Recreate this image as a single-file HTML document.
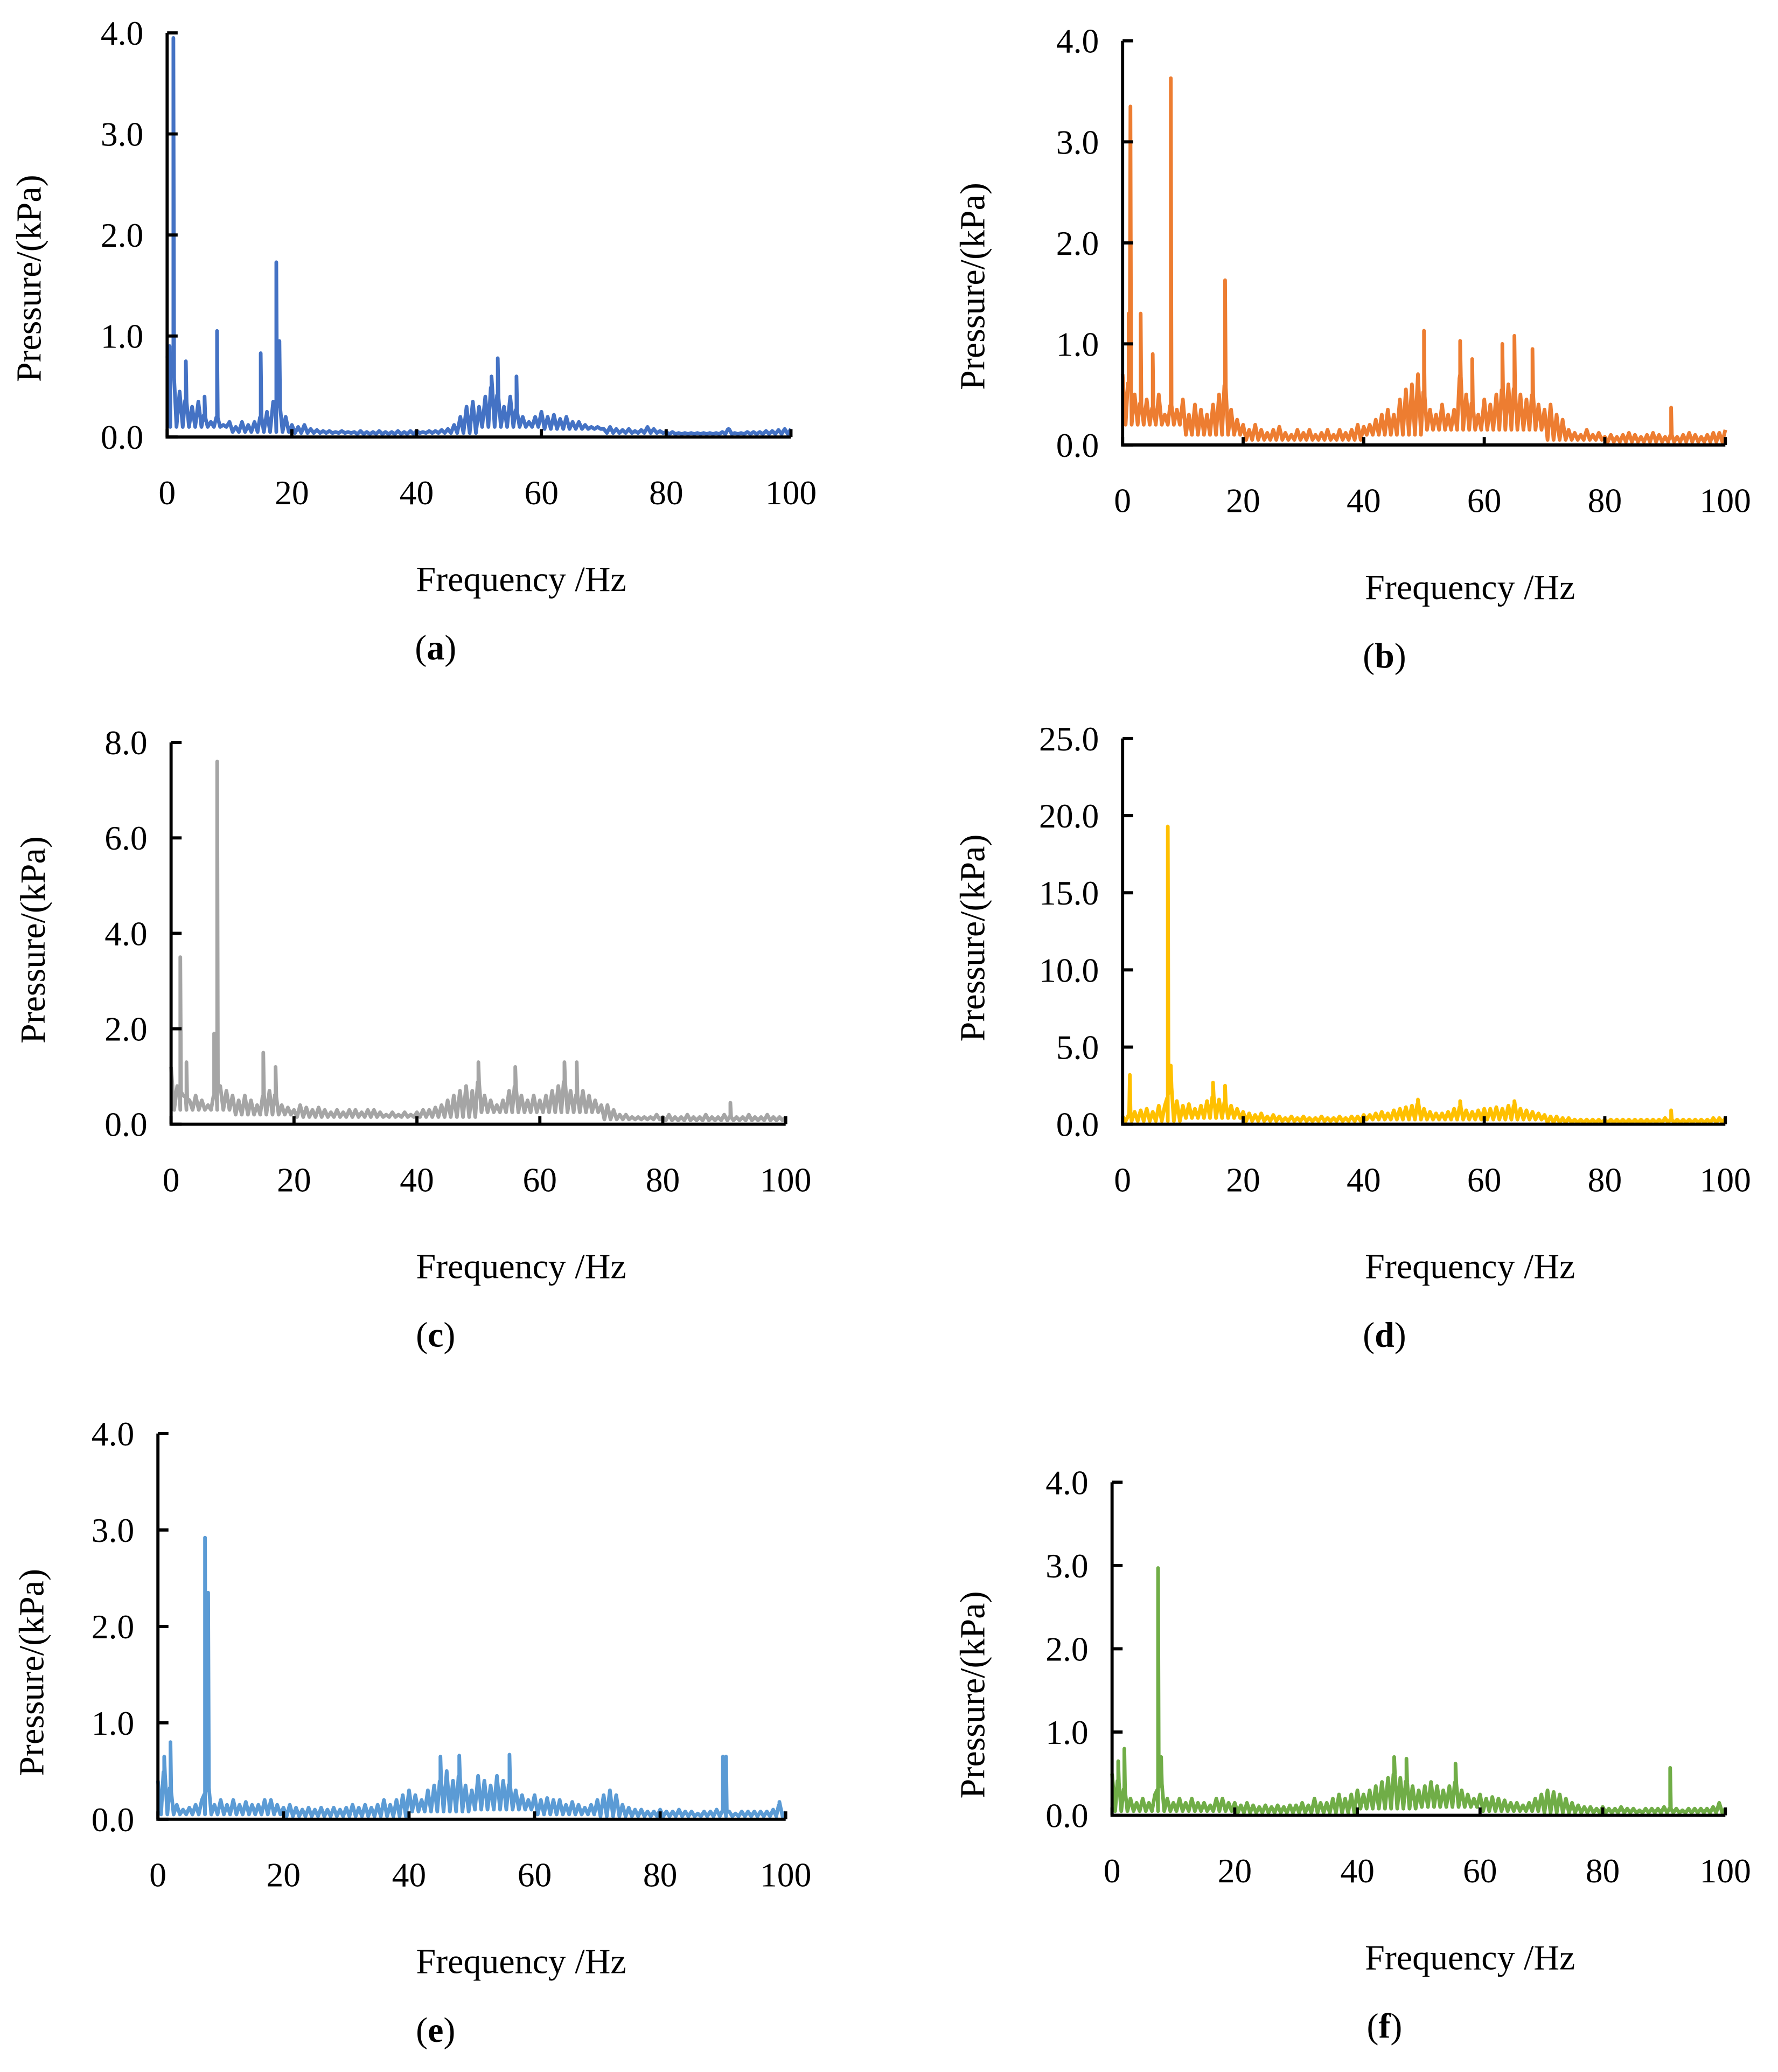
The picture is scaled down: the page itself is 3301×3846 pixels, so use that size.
<!DOCTYPE html>
<html><head><meta charset="utf-8"><style>
html,body{margin:0;padding:0;background:#fff}
svg{display:block}
text{font-family:"Liberation Serif",serif;fill:#000}
</style></head><body>
<svg id="fig" width="3301" height="3846" viewBox="0 0 1351 1574" preserveAspectRatio="none" xmlns="http://www.w3.org/2000/svg"></svg>
<script>
const freqTicks=[0,20,40,60,80,100];
const baseA=[0.8,0.6,0.45,0.35,0.3,0.35,0.2,0.15,0.2,0.12,0.15,0.1,0.15,0.12,0.15,0.2,0.25,0.35,0.3,0.2,0.12,0.1,0.12,0.08,0.07,0.06,0.06,0.05,0.06,0.05,0.05,0.06,0.05,0.05,0.06,0.05,0.05,0.06,0.05,0.06,0.06,0.05,0.06,0.06,0.07,0.08,0.12,0.2,0.3,0.35,0.3,0.4,0.5,0.4,0.3,0.4,0.25,0.2,0.15,0.2,0.25,0.2,0.22,0.18,0.2,0.15,0.15,0.12,0.1,0.1,0.08,0.1,0.08,0.07,0.08,0.06,0.07,0.1,0.08,0.06,0.05,0.05,0.04,0.04,0.04,0.04,0.04,0.04,0.04,0.05,0.08,0.04,0.04,0.05,0.05,0.05,0.06,0.06,0.07,0.08,0.08];
const peaksA=[[0.4,0.9],[1,3.95],[3,0.75],[6,0.4],[8,1.05],[15,0.83],[17.5,1.73],[18,0.95],[52,0.6],[53,0.78],[56,0.6],[90,0.08]];
const floorA=[0.1,0.05,0.04,0.03,0.04,0.1,0.08,0.04,0.03,0.03];
const baseB=[0.7,0.6,0.5,0.4,0.45,0.35,0.5,0.3,0.4,0.35,0.45,0.3,0.4,0.35,0.3,0.4,0.5,0.6,0.35,0.25,0.2,0.15,0.2,0.15,0.12,0.15,0.18,0.12,0.1,0.15,0.12,0.15,0.1,0.12,0.15,0.1,0.15,0.12,0.15,0.2,0.18,0.2,0.25,0.3,0.35,0.3,0.45,0.55,0.6,0.7,0.5,0.35,0.3,0.4,0.3,0.35,0.7,0.5,0.4,0.3,0.45,0.4,0.5,0.55,0.6,0.55,0.5,0.45,0.5,0.4,0.35,0.4,0.3,0.25,0.15,0.12,0.1,0.15,0.1,0.12,0.08,0.1,0.08,0.1,0.12,0.1,0.08,0.1,0.12,0.1,0.08,0.1,0.08,0.1,0.12,0.1,0.08,0.1,0.12,0.12,0.15];
const peaksB=[[1,1.3],[1.3,3.35],[3,1.3],[5,0.9],[8,3.63],[17,1.63],[50,1.13],[56,1.03],[58,0.85],[63,1.0],[65,1.08],[68,0.95],[91,0.37]];
const floorB=[0.2,0.1,0.05,0.05,0.1,0.15,0.15,0.05,0.03,0.03];
const baseC=[1.2,0.8,0.6,0.5,0.6,0.5,0.4,0.6,0.8,0.7,0.6,0.5,0.6,0.5,0.4,0.6,0.7,0.6,0.4,0.35,0.3,0.4,0.35,0.3,0.35,0.3,0.25,0.3,0.25,0.3,0.3,0.25,0.3,0.3,0.25,0.2,0.25,0.2,0.25,0.2,0.25,0.3,0.3,0.35,0.4,0.5,0.6,0.7,0.8,0.7,0.9,0.6,0.5,0.4,0.5,0.7,0.8,0.6,0.5,0.6,0.5,0.6,0.7,0.8,0.9,0.7,0.6,0.7,0.6,0.5,0.4,0.4,0.3,0.2,0.2,0.15,0.15,0.15,0.15,0.2,0.15,0.2,0.15,0.15,0.2,0.15,0.15,0.2,0.15,0.15,0.2,0.15,0.15,0.15,0.2,0.15,0.15,0.2,0.15,0.15,0.15];
const peaksC=[[1.5,3.5],[2.5,1.3],[7,1.9],[7.5,7.6],[15,1.5],[17,1.2],[50,1.3],[56,1.2],[64,1.3],[66,1.3],[91,0.45]];
const floorC=[0.3,0.2,0.15,0.15,0.15,0.25,0.25,0.1,0.08,0.08];
const baseD=[0.5,0.6,0.8,0.9,1.0,0.8,1.2,1.2,2.5,1.5,1.2,1.3,1.0,1.2,1.5,1.8,1.6,1.4,1.2,1.0,0.8,0.7,0.6,0.7,0.5,0.6,0.5,0.4,0.5,0.4,0.5,0.4,0.4,0.5,0.4,0.4,0.5,0.4,0.5,0.5,0.6,0.6,0.7,0.8,0.7,0.9,1.0,1.1,1.2,1.3,1.0,0.8,0.7,0.7,0.8,1.0,1.1,0.9,0.8,0.9,1.0,1.0,1.1,1.0,1.2,1.2,1.0,0.9,0.8,0.7,0.6,0.5,0.5,0.4,0.4,0.3,0.3,0.3,0.3,0.3,0.3,0.3,0.3,0.3,0.3,0.3,0.3,0.3,0.3,0.3,0.4,0.3,0.3,0.3,0.3,0.3,0.3,0.3,0.4,0.4,0.4];
const peaksD=[[1.2,3.2],[7.5,19.3],[8,3.8],[15,2.7],[17,2.5],[49,1.6],[56,1.5],[65,1.5],[91,0.9]];
const floorD=[0.2,0.4,0.2,0.2,0.3,0.3,0.3,0.1,0.1,0.1];
const baseE=[0.4,0.5,0.3,0.15,0.1,0.12,0.15,0.2,0.35,0.15,0.2,0.15,0.2,0.15,0.18,0.15,0.15,0.2,0.2,0.15,0.12,0.15,0.12,0.1,0.12,0.1,0.12,0.1,0.12,0.1,0.12,0.15,0.12,0.15,0.12,0.15,0.2,0.15,0.2,0.25,0.3,0.25,0.2,0.3,0.35,0.4,0.5,0.4,0.45,0.35,0.3,0.45,0.4,0.35,0.45,0.4,0.35,0.3,0.25,0.2,0.25,0.2,0.22,0.2,0.2,0.15,0.18,0.15,0.12,0.15,0.2,0.25,0.3,0.25,0.15,0.12,0.1,0.1,0.08,0.08,0.1,0.08,0.08,0.1,0.08,0.08,0.06,0.08,0.08,0.1,0.08,0.08,0.06,0.08,0.08,0.08,0.08,0.08,0.1,0.15,0.08];
const peaksE=[[1,0.65],[2,0.8],[7.5,2.92],[8,2.35],[45,0.65],[48,0.66],[56,0.67],[90,0.65],[90.5,0.65],[99,0.18]];
const floorE=[0.05,0.05,0.03,0.03,0.08,0.1,0.05,0.03,0.03,0.03];
const baseF=[0.5,0.4,0.3,0.2,0.15,0.2,0.15,0.25,0.4,0.2,0.15,0.2,0.15,0.2,0.15,0.15,0.12,0.2,0.2,0.15,0.15,0.12,0.15,0.12,0.1,0.12,0.1,0.12,0.1,0.12,0.12,0.15,0.12,0.2,0.15,0.15,0.2,0.25,0.2,0.25,0.3,0.25,0.3,0.35,0.4,0.45,0.5,0.45,0.4,0.35,0.3,0.35,0.4,0.35,0.3,0.35,0.4,0.3,0.25,0.2,0.25,0.2,0.22,0.2,0.18,0.15,0.15,0.12,0.15,0.2,0.25,0.3,0.28,0.25,0.2,0.15,0.12,0.1,0.1,0.08,0.1,0.08,0.08,0.1,0.08,0.08,0.06,0.08,0.08,0.08,0.1,0.08,0.08,0.06,0.08,0.08,0.08,0.08,0.1,0.15,0.08];
const peaksF=[[1,0.65],[2,0.8],[7.5,2.97],[8,0.7],[46,0.7],[48,0.68],[56,0.62],[91,0.57]];
const floorF=[0.05,0.05,0.03,0.03,0.08,0.1,0.05,0.03,0.03,0.03];
const yTicksA=["0.0","1.0","2.0","3.0","4.0"];
const yTicksC=["0.0","2.0","4.0","6.0","8.0"];
const yTicksD=["0.0","5.0","10.0","15.0","20.0","25.0"];

const NS="http://www.w3.org/2000/svg";
const svg=document.getElementById('fig');
function mk(tag,attrs,parent){const e=document.createElementNS(NS,tag);for(const k in attrs)e.setAttribute(k,attrs[k]);(parent||svg).appendChild(e);return e;}

const panels=[
 {id:'a',x0:127,x1:601,y0:332,yt:25,ticks:yTicksA,ymax:4,base:baseA,peaks:peaksA,floor:floorA,col:'#4472C4'},
 {id:'b',x0:853,x1:1311,y0:338,yt:31,ticks:yTicksA,ymax:4,base:baseB,peaks:peaksB,floor:floorB,col:'#ED7D31'},
 {id:'c',x0:130,x1:597,y0:854,yt:564,ticks:yTicksC,ymax:8,base:baseC,peaks:peaksC,floor:floorC,col:'#A5A5A5'},
 {id:'d',x0:853,x1:1311,y0:854,yt:561,ticks:yTicksD,ymax:25,base:baseD,peaks:peaksD,floor:floorD,col:'#FFC000'},
 {id:'e',x0:120,x1:597,y0:1382,yt:1089,ticks:yTicksA,ymax:4,base:baseE,peaks:peaksE,floor:floorE,col:'#5B9BD5'},
 {id:'f',x0:845,x1:1311,y0:1379,yt:1126,ticks:yTicksA,ymax:4,base:baseF,peaks:peaksF,floor:floorF,col:'#70AD47'}
];

panels.forEach(p=>{
  const g=mk('g',{});
  
  
  const xs=f=>p.x0+(p.x1-p.x0)*f/100;
  const ys=v=>p.y0-(p.y0-p.yt)*v/p.ymax;
  const baseAt=f=>{const i=Math.floor(f);const t=f-i;const a=p.base[i]||0,b=p.base[i+1]!==undefined?p.base[i+1]:a;return a+(b-a)*t;};
  let pts=p.base.map((v,i)=>[i,v]);
  // noise troughs between samples, from per-10Hz floor levels
  for(let i=0;i<p.base.length-1;i++){
    const fl=p.floor[Math.min(9,Math.floor(i/10))];
    pts.push([i+0.5,Math.min(fl,baseAt(i+0.5))]);
  }
  p.peaks.forEach(([f,v])=>{pts.push([f-0.12,baseAt(f-0.12)]);pts.push([f,v]);pts.push([f+0.12,baseAt(f+0.12)]);});
  pts.sort((a,b)=>a[0]-b[0]);
  const line=mk('polyline',{points:pts.map(q=>xs(q[0]).toFixed(2)+','+ys(q[1]).toFixed(2)).join(' '),fill:'none',stroke:p.col,'stroke-width':2.8,'stroke-linejoin':'round'},g);
  
  
  const ax=mk('path',{d:`M${p.x0},${p.yt} V${p.y0} H${p.x1}`,fill:'none',stroke:'#000','stroke-width':2.4},g);
  
  
  p.ticks.forEach((t,i)=>{
    const v=p.ymax*i/(p.ticks.length-1);
    const y=ys(v);
    mk('line',{x1:p.x0,x2:p.x0+8,y1:y,y2:y,stroke:'#000','stroke-width':2.4},g);
    const tx=mk('text',{x:p.x0-18,y:y+9,'font-size':26,'text-anchor':'end'},g);
    tx.textContent=t;
    
    
  });
  freqTicks.forEach(f=>{
    const x=xs(f);
    mk('line',{x1:x,x2:x,y1:p.y0,y2:p.y0-6,stroke:'#000','stroke-width':2.4},g);
    const tx=mk('text',{x:x,y:p.y0+51,'font-size':26,'text-anchor':'middle'},g);
    tx.textContent=String(f);
    
    
  });
  const left=(p.id==='a'||p.id==='c'||p.id==='e');
  const cx=left?396:1117;
  const xt=mk('text',{x:cx,y:p.y0+117,'font-size':27,'text-anchor':'middle'},g);
  xt.textContent='Frequency /Hz';
  
  
  const cap=mk('text',{x:cx-65,y:p.y0+169,'font-size':27,'text-anchor':'middle'},g);
  cap.innerHTML='(<tspan font-weight="bold">'+p.id+'</tspan>)';
  
  
  const ymid=(p.y0+p.yt)/2+(p.id==='a'||p.id==='b'?33:p.id==='c'||p.id==='d'?5:35);
  const yx=p.x0-(p.id==='a'?96:p.id==='c'?96:p.id==='e'?87:p.id==='f'?97:105);
  const yt=mk('text',{x:yx,y:ymid,'font-size':27,'text-anchor':'middle',transform:`rotate(-90 ${yx} ${ymid})`},g);
  yt.textContent='Pressure/(kPa)';
  
  
});
</script>
</body></html>
